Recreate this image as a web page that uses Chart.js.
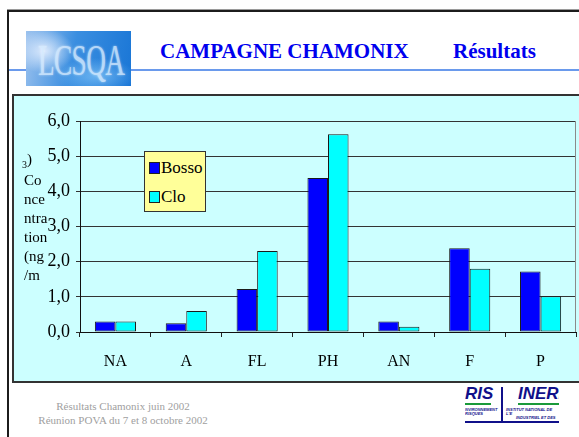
<!DOCTYPE html>
<html>
<head>
<meta charset="utf-8">
<script src="https://cdn.jsdelivr.net/npm/chart.js@4"></script>
<style>
  body { margin: 0; width: 579px; height: 437px; overflow: hidden; background: #fff;
         font-family: "Liberation Serif", "Times New Roman", serif; position: relative; }
  .frame { position: absolute; left: 7px; top: 10px; width: 640px; height: 460px;
           border-left: 2px solid #1c1c1c; border-top: 2px solid #1c1c1c;
           box-shadow: 0 -1px 0 #9a9a9a; }
  .rule { position: absolute; left: 9px; top: 69px; width: 570px; height: 2px; background: #6a9aec; }
  .logo { position: absolute; left: 26px; top: 31px; width: 105px; height: 55px; overflow: hidden;
          background:
            radial-gradient(ellipse 30px 22px at 18px 20px, rgba(230,240,255,0.9), rgba(230,240,255,0) 100%),
            radial-gradient(ellipse 40px 18px at 70px 45px, rgba(120,190,245,0.8), rgba(120,190,245,0) 100%),
            linear-gradient(100deg, #9cc2ee 0%, #3a8ee0 45%, #1a76d6 100%); }
  .logo span { position: absolute; left: 12px; top: 4px; font-size: 44px; color: #d8ecff;
               transform: scaleX(0.62); transform-origin: left top; letter-spacing: -1px;
               text-shadow: 0 0 3px rgba(255,255,255,0.7); opacity: 0.8; }
  .title { position: absolute; top: 39px; font-weight: bold; font-size: 21px; color: #0000ee; white-space: nowrap; }
  .panel { position: absolute; left: 12px; top: 94px; width: 580px; height: 285px;
           background: #ccffff; border: 2px solid #333; }
  #wrap { position: absolute; left: 12px; top: 94px; width: 567px; height: 287px; }
  .ytitle { position: absolute; left: 24px; top: 171px; font-size: 15px; line-height: 19px; color: #000; }
  .ysub { position: absolute; left: 22px; top: 151px; font-size: 15px; color: #000; }
  .ysub sub { font-size: 10px; }
  .legend { position: absolute; left: 144px; top: 151px; width: 60px; height: 59px;
            background: #ffff99; border: 1px solid #333; }
  .legend .item { position: absolute; left: 4px; font-size: 17px; line-height: 17px; white-space: nowrap; }
  .legend .sw { display: inline-block; width: 9px; height: 10px; border: 1px solid #222; margin-right: 1px; vertical-align: -1px; }
  .foot { position: absolute; color: #a0a0a0; font-size: 11px; white-space: nowrap; width: 230px; text-align: center; left: 8px; }
  .partners { position: absolute; left: 465px; top: 387px; width: 94px; height: 34px; background: #fff;
              border-bottom: 2px solid #10108a; overflow: hidden; }
  .partners .big { position: absolute; top: -3px; font: italic bold 17px "Liberation Sans", Arial, sans-serif; color: #10108a; }
  .partners .green { position: absolute; top: 16px; height: 2px; background: #1a9a3a; }
  .partners .small { position: absolute; font: italic bold 4px "Liberation Sans", Arial, sans-serif; color: #10108a; line-height: 4px; }
  .partners .vbar { position: absolute; left: 36px; top: 0; width: 2px; height: 34px; background: #10108a; }
</style>
</head>
<body>
<div class="frame"></div>
<div class="rule"></div>
<div class="logo"><span>LCSQA</span></div>
<div class="title" style="left:160px">CAMPAGNE CHAMONIX</div>
<div class="title" style="left:453px">Résultats</div>

<div class="panel"></div>
<div id="wrap"><canvas id="chart"></canvas></div>
<div class="ysub"><sub>3</sub>)</div>
<div class="ytitle">Co<br>nce<br>ntra<br>tion<br>(ng<br>/m</div>
<div class="legend" id="legend"></div>

<div class="foot" style="top:400px">Résultats Chamonix juin 2002</div>
<div class="foot" style="top:414px">Réunion POVA du 7 et 8 octobre 2002</div>

<div class="partners">
  <div class="big" style="left:0">RIS</div>
  <div class="green" style="left:0;width:26px"></div>
  <div class="small" style="left:0;top:21px">NVIRONNEMENT<br>RISQUES</div>
  <div class="vbar"></div>
  <div class="big" style="left:53px">INERI</div>
  <div class="green" style="left:53px;width:41px"></div>
  <div class="small" style="left:41px;top:21px">INSTITUT NATIONAL DE L'E<br>&nbsp;&nbsp;&nbsp;&nbsp;&nbsp;&nbsp;&nbsp;&nbsp;&nbsp;INDUSTRIEL ET DES</div>
</div>

<script>
// polluant categories and the two sampling sites (ng/m3)
const categories = ["NA", "A", "FL", "PH", "AN", "F", "P"];
const seriesNames = ["Bosso", "Clo"];
const bosso = [0.30, 0.25, 1.22, 4.38, 0.30, 2.38, 1.72];
const clo   = [0.30, 0.60, 2.30, 5.62, 0.15, 1.80, 1.02];
const seriesColors = ["#0000ff", "#00ffff"];
const yTicks = [0, 1, 2, 3, 4, 5, 6];

const serif = "'Liberation Serif', 'Times New Roman', serif";

// legend box
document.getElementById("legend").innerHTML = seriesNames.map((n, i) =>
  `<div class="item" style="top:${7 + i * 29}px"><span class="sw" style="background:${seriesColors[i]}"></span>${n}</div>`
).join("");

// thin grey line closing the plot on the right
const rightEdge = {
  id: "rightEdge",
  afterDraw(chart) {
    const { ctx, chartArea: a } = chart;
    ctx.save();
    ctx.strokeStyle = "#8a8a8a";
    ctx.lineWidth = 1;
    ctx.beginPath();
    ctx.moveTo(a.right - 0.5, a.top);
    ctx.lineTo(a.right - 0.5, a.bottom);
    ctx.stroke();
    ctx.restore();
  }
};

new Chart(document.getElementById("chart"), {
  type: "bar",
  data: {
    labels: categories,
    datasets: [bosso, clo].map((d, i) => ({
      label: seriesNames[i],
      data: d,
      backgroundColor: seriesColors[i],
      borderColor: "#1a1a1a",
      borderWidth: 1,
      borderSkipped: false,
      categoryPercentage: 0.58,
      barPercentage: 1.0,
    })),
  },
  options: {
    responsive: true,
    maintainAspectRatio: false,
    animation: false,
    layout: { padding: { top: 27, right: 3, bottom: 0, left: 0 } },
    plugins: { legend: { display: false }, tooltip: { enabled: false } },
    scales: {
      x: {
        grid: { drawOnChartArea: false, color: "#222", tickLength: 5, offset: true },
        border: { color: "#111", width: 1 },
        ticks: { color: "#000", font: { family: serif, size: 16 }, padding: 15, maxRotation: 0 },
        afterFit: (s) => { s.height = 49; },
      },
      y: {
        min: 0, max: 6,
        afterBuildTicks: (s) => { s.ticks = yTicks.map(v => ({ value: v })); },
        grid: { color: "#333", lineWidth: 1, tickLength: 4 },
        border: { color: "#111", width: 1 },
        ticks: {
          color: "#000", font: { family: serif, size: 18 }, padding: 6,
          callback: (v) => v.toFixed(1).replace(".", ","),
        },
        afterFit: (s) => { s.width = 68; },
      },
    },
  },
  plugins: [rightEdge],
});
</script>
</body>
</html>
